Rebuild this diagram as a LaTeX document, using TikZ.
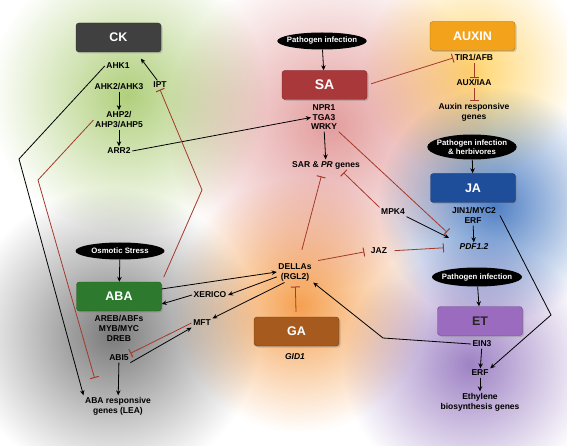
\documentclass[tikz,border=0pt]{standalone}
\usepackage{fontspec}
\setmainfont{Liberation Sans}
\usetikzlibrary{arrows.meta,shapes.geometric,shadows}

\definecolor{ckgray}{HTML}{404040}
\definecolor{sared}{HTML}{A8383A}
\definecolor{auxorange}{HTML}{F3A21C}
\definecolor{jablue}{HTML}{1E4E9A}
\definecolor{etpurple}{HTML}{9A6BBE}
\definecolor{abagreen}{HTML}{2D7A2F}
\definecolor{gabrown}{HTML}{A65A1E}
\definecolor{inhred}{HTML}{A33A2C}
\definecolor{ckglow}{HTML}{B0CF7C}
\definecolor{saglow}{HTML}{E39C9C}
\definecolor{auxglow}{HTML}{FFD56E}
\definecolor{jaglow}{HTML}{4F7FC4}
\definecolor{etglow}{HTML}{9E82C4}
\definecolor{abaglow}{HTML}{7A7A7A}
\definecolor{gaglow}{HTML}{F5A050}

\begin{document}
\begin{tikzpicture}[x=1pt, y=-1pt,
    glow/.style={inner color=#1, outer color=white, blend mode=multiply},
    hormone/.style={rectangle, rounded corners=3pt, minimum width=85pt, minimum height=29pt,
      fill=#1, draw=#1!70!black, text=white, font=\bfseries\fontsize{12.5}{14}\selectfont,
      drop shadow={shadow xshift=1.5pt, shadow yshift=-1.5pt, opacity=0.35}},
    cause/.style={ellipse, fill=black, text=white, inner xsep=-3.5pt, inner ysep=0pt,
      minimum width=89pt, minimum height=17pt, align=center,
      font=\bfseries\fontsize{7.8}{9}\selectfont},
    gene/.style={inner sep=1.5pt, align=center, font=\bfseries\fontsize{8.5}{10}\selectfont},
    act/.style={-{Stealth[length=5pt, width=4.5pt]}, line width=0.8pt},
    inh/.style={-{Bar[width=9pt, line width=1pt]}, draw=inhred, line width=0.8pt}
  ]
    \useasboundingbox (0,0) rectangle (567,446);

    % BACKGROUND GLOWS
    \shade[glow=saglow] (330,125) circle (165);
    \shade[glow=gaglow] (300,305) circle (128);
    \shade[glow=ckglow] (128,95) circle (140);
    \shade[glow=auxglow] (472,70) circle (110);
    \shade[glow=abaglow] (112,335) circle (148);
    \shade[glow=etglow] (470,365) circle (128);
    \shade[glow=jaglow] (495,205) circle (118);

    % CK
    \node[hormone=ckgray] (ck) at (118.5,37.5) {CK};
    \node[gene] (ahk1) at (118,66) {AHK1};
    \node[gene] (ipt) at (160,85) {IPT};
    \node[gene] (ahk) at (119,87) {AHK2/AHK3};
    \node[gene] (ahp) at (119,120) {AHP2/\\AHP3/AHP5};
    \node[gene] (arr2) at (119,151) {ARR2};
    \draw[act] (ahk) -- (ahp);
    \draw[act] (ahp) -- (arr2);
    \draw[act, shorten >=8pt] (ipt.120) -- (ck.-40);

    % SA
    \node[cause] (pathsa) at (322,41) {Pathogen infection};
    \node[hormone=sared, font=\bfseries\fontsize{14}{16}\selectfont] (sa) at (324.5,85) {SA};
    \node[gene] (npr) at (324,108) {NPR1};
    \node[gene] (tga) at (324,117.5) {TGA3};
    \node[gene] (wrky) at (324,127) {WRKY};
    \node[gene] (sar) at (326,165) {SAR \& \textit{PR} genes};
    \draw[act] (pathsa) -- (sa);
    \draw[act] (wrky) -- (sar);
    \draw[act] (arr2.east) -- (tga.west);

    % AUXIN
    \node[hormone=auxorange] (auxin) at (472.5,36) {AUXIN};
    \node[gene] (tir) at (474,58) {TIR1/AFB};
    \node[gene] (auxiaa) at (474,83) {AUX/IAA};
    \node[gene] (auxgenes) at (474,112) {Auxin responsive\\genes};
    \draw[inh] (tir) -- (auxiaa);
    \draw[inh] (auxiaa) -- (auxgenes);
    \draw[inh, shorten <=4pt] (sa.east) -- (tir.west);

    % JA
    \node[cause, minimum width=88pt, minimum height=25pt] (pathja) at (472,147) {Pathogen infection\\\& herbivores};
    \node[hormone=jablue] (ja) at (473,188) {JA};
    \node[gene] (jin) at (474,211) {JIN1/MYC2};
    \node[gene] (erfja) at (473,221) {ERF};
    \node[gene, font=\bfseries\itshape\fontsize{8.5}{10}\selectfont] (pdf) at (474,247) {PDF1.2};
    \draw[act] (pathja) -- (ja);
    \draw[act] (erfja) -- (pdf);

    % ET
    \node[cause, minimum width=90pt, minimum height=19pt] (pathet) at (477,277) {Pathogen infection};
    \node[hormone=etpurple, text=black!85] (et) at (480,321) {ET};
    \node[gene] (ein3) at (482,344) {EIN3};
    \node[gene] (erfet) at (480,373) {ERF};
    \node[gene] (ethgenes) at (480,402) {Ethylene\\biosynthesis genes};
    \draw[act] (pathet) -- (et);
    \draw[act] (ein3) -- (erfet);
    \draw[act] (erfet) -- (ethgenes);

    % GA AND DELLAs
    \node[gene] (della) at (295,272) {DELLAs\\(RGL2)};
    \node[hormone=gabrown] (ga) at (296.5,331.5) {GA};
    \node[gene, font=\bfseries\itshape\fontsize{8.5}{10}\selectfont] (gid) at (295,357) {GID1};
    \node[gene] (mpk4) at (393,212) {MPK4};
    \node[gene] (jaz) at (379,251) {JAZ};
    \draw[inh, shorten <=5pt, shorten >=4pt] (ga) -- (della);
    \draw[inh, shorten <=12pt, shorten >=6pt] (della.70) -- (sar.-120);
    \draw[inh, shorten <=5pt, shorten >=5pt] (della.north east) -- (jaz.west);
    \draw[inh, shorten <=6pt, shorten >=14pt] (jaz.east) -- (pdf.west);
    \draw[inh, shorten >=3pt] (mpk4.north west) -- (sar.-20);
    \draw[act, shorten >=10pt] (mpk4.south east) -- (pdf.north west);
    \draw[inh, shorten >=15pt] (wrky.south east) -- (pdf.north west);

    % ABA
    \node[cause] (osm) at (120,251) {Osmotic Stress};
    \node[hormone=abagreen] (aba) at (119,296.5) {ABA};
    \node[gene] (abatf) at (119,328.5) {AREB/ABFs\\MYB/MYC\\DREB};
    \node[gene] (abi5) at (119,358) {ABI5};
    \node[gene] (abagenes) at (118,406) {ABA responsive\\genes (LEA)};
    \node[gene] (xerico) at (210,295) {XERICO};
    \node[gene] (mft) at (202,323) {MFT};
    \draw[act] (osm) -- (aba);
    \draw[act] (abi5) -- (abagenes);
    \draw[act] (aba.10) -- (della.west);
    \draw[act] (della.-165) -- (xerico.east);
    \draw[act] (xerico.west) -- (aba.-10);
    \draw[act] (della.-135) -- (mft.north east);
    \draw[act] (abi5.south east) -- (mft.south west);
    \draw[inh] (mft.west) -- (abi5.north east);

    % LONG LINKS
    \coordinate (ckbend) at (19,159);
    \draw[act] (ahk1.west) -- (ckbend) -- (abagenes.north west);
    \coordinate (ahpbend) at (38,180);
    \draw[inh, shorten >=18pt] (ahp.west) -- (ahpbend) -- (abagenes.150);
    \coordinate (ababend) at (202,190);
    \draw[inh, shorten <=5pt] (aba.north east) -- (ababend) -- (ipt.south);
    \coordinate (jabend) at (551,315);
    \draw[act, shorten <=5pt] (jin.east) -- (jabend) -- (erfet.north east);
    \coordinate (etbend) at (383,338);
    \draw[act] (ein3.west) -- (etbend) -- (della.south east);
\end{tikzpicture}
\end{document}
